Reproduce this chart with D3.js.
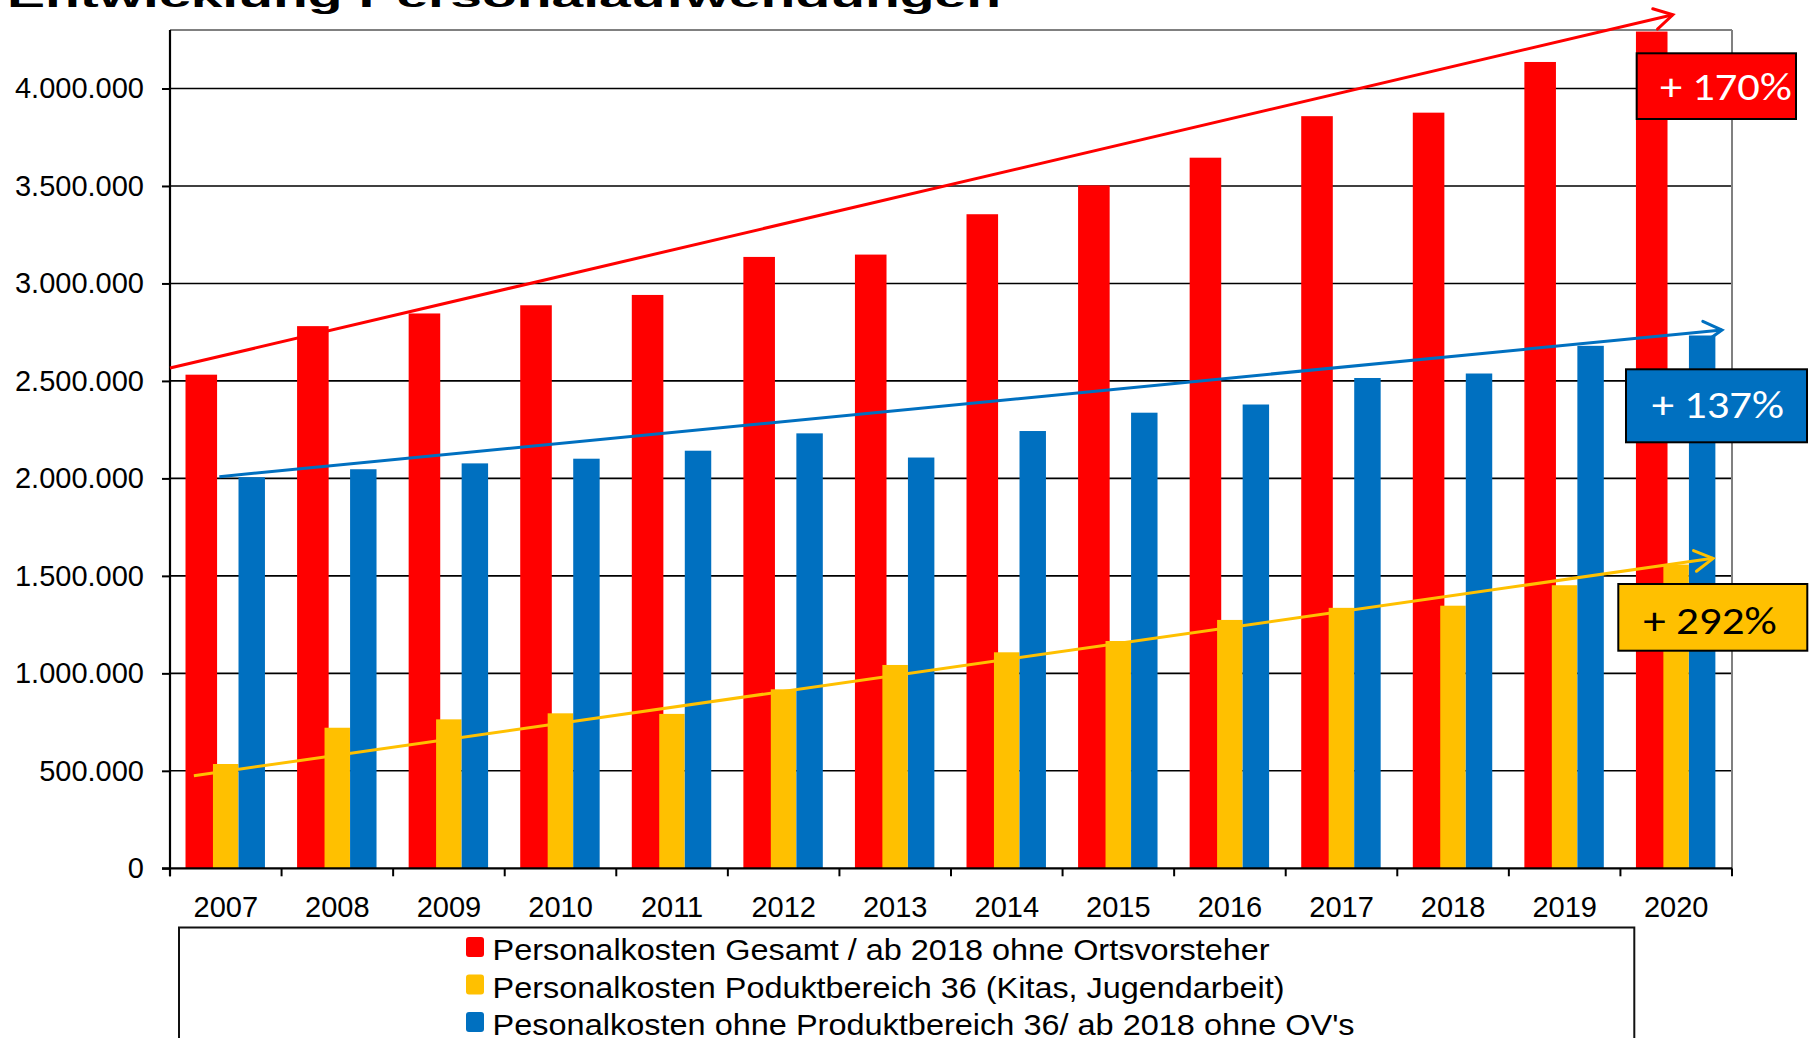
<!DOCTYPE html>
<html><head><meta charset="utf-8">
<script src="https://cdn.jsdelivr.net/npm/d3@7"></script>
<style>
html,body{margin:0;padding:0;background:#fff;}
svg{display:block;}
text{font-family:"Liberation Sans",Arial,sans-serif;}
</style></head><body>
<svg id="chart" width="1810" height="1038"></svg>
<script>
// ---------- data ----------
const years = ["2007","2008","2009","2010","2011","2012","2013","2014","2015","2016","2017","2018","2019","2020"];
const gesamt    = [2532000,2781000,2846000,2888000,2941000,3136000,3148000,3355000,3503000,3645000,3858000,3876000,4136000,4292000];
const bereich36 = [535000,721000,764000,795000,792000,918000,1043000,1108000,1166000,1274000,1336000,1347000,1452000,1558000];
const ohne36    = [2006000,2047000,2077000,2101000,2142000,2231000,2107000,2243000,2337000,2379000,2515000,2538000,2680000,2733000];
const seriesNames = [
  "Personalkosten Gesamt / ab 2018 ohne Ortsvorsteher",
  "Personalkosten Poduktbereich 36 (Kitas, Jugendarbeit)",
  "Pesonalkosten ohne Produktbereich 36/ ab 2018 ohne OV's"
];
const yTicks = [0,500000,1000000,1500000,2000000,2500000,3000000,3500000,4000000];
const yMax = 4300000;
// trend arrows: [category position (0 = left edge of 2007), value]
const trendGesamt    = [[0, 2566000], [13.47, 4378000]];
const trendOhne36    = [[0.442, 2009000], [13.91, 2761000]];
const trendBereich36 = [[0.214, 475000], [13.83, 1590000]];
const growthLabels = ["+ 170%", "+ 137%", "+ 292%"];
const titleText = "Entwicklung Personalaufwendungen";

// ---------- styles / layout ----------
const colors = ["#FF0000", "#FFC000", "#0070C0"];
const L = 170, R = 1732, T = 30, B = 868.3;
const svg = d3.select("#chart");
svg.append("rect").attr("width",1810).attr("height",1038).attr("fill","#fff");

const x = d3.scaleBand().domain(years).range([L, R]).padding(0);
const xl = d3.scaleLinear().domain([0, years.length]).range([L, R]);
const y = d3.scaleLinear().domain([0, yMax]).range([B, T]);
const fmt = d3.formatLocale({decimal: ",", thousands: ".", grouping: [3], currency: ["", "€"]}).format(",");

// title (only the lower part is visible)
svg.append("text").text(titleText)
  .attr("transform", "translate(7,6.5) scale(1,0.55)")
  .attr("font-size", 57).attr("font-weight", "bold").attr("fill", "#000");

// gridlines
svg.append("g").selectAll("line").data(yTicks.filter(d => d > 0)).join("line")
  .attr("x1", L).attr("x2", R).attr("y1", d => y(d)).attr("y2", d => y(d))
  .attr("stroke", "#000").attr("stroke-width", 1.6);

// plot border top/right
svg.append("line").attr("x1", L).attr("x2", R).attr("y1", T).attr("y2", T).attr("stroke", "#808080").attr("stroke-width", 2);
svg.append("line").attr("x1", R).attr("x2", R).attr("y1", T).attr("y2", B).attr("stroke", "#808080").attr("stroke-width", 2);

// bars
const barLayout = [{off: 0.139, w: 0.283}, {off: 0.385, w: 0.228}, {off: 0.614, w: 0.237}];
const series = [gesamt, bereich36, ohne36];
const step = x.step();
series.forEach((vals, si) => {
  svg.append("g").selectAll("rect").data(years).join("rect")
    .attr("x", (d) => x(d) + barLayout[si].off * step)
    .attr("width", barLayout[si].w * step)
    .attr("y", (d, i) => y(vals[i]))
    .attr("height", (d, i) => y(0) - y(vals[i]))
    .attr("fill", colors[si]);
});

// y axis
const yAxis = svg.append("g").attr("transform", `translate(${L},0)`)
  .call(d3.axisLeft(y).tickValues(yTicks).tickSize(8).tickPadding(18).tickFormat(fmt));
yAxis.select(".domain").remove();
yAxis.selectAll(".tick line").attr("stroke", "#000").attr("stroke-width", 2);
yAxis.selectAll("text").attr("font-size", 29).attr("fill", "#000")
  .attr("font-family", '"Liberation Sans",Arial,sans-serif');
svg.append("line").attr("x1", L).attr("x2", L).attr("y1", T).attr("y2", B + 8).attr("stroke", "#000").attr("stroke-width", 2.2);

// x axis
svg.append("line").attr("x1", L - 8).attr("x2", R).attr("y1", B).attr("y2", B).attr("stroke", "#000").attr("stroke-width", 2.2);
svg.append("g").selectAll("line").data(d3.range(years.length + 1)).join("line")
  .attr("x1", d => xl(d)).attr("x2", d => xl(d)).attr("y1", B).attr("y2", B + 8)
  .attr("stroke", "#000").attr("stroke-width", 2);
const xAxis = svg.append("g").attr("transform", `translate(0,${B})`)
  .call(d3.axisBottom(x).tickSize(0).tickPadding(28));
xAxis.select(".domain").remove();
xAxis.selectAll("text").attr("font-size", 29).attr("fill", "#000")
  .attr("font-family", '"Liberation Sans",Arial,sans-serif');

// trend arrows
function arrow(pts, color) {
  const x0 = xl(pts[0][0]), y0 = y(pts[0][1]), x1 = xl(pts[1][0]), y1 = y(pts[1][1]);
  const g = svg.append("g");
  g.append("line").attr("x1", x0).attr("y1", y0).attr("x2", x1).attr("y2", y1)
    .attr("stroke", color).attr("stroke-width", 3);
  const a = Math.atan2(y1 - y0, x1 - x0), len = 21, sp = 0.52;
  g.append("path")
    .attr("d", `M${x1 - len * Math.cos(a - sp)},${y1 - len * Math.sin(a - sp)}L${x1},${y1}L${x1 - len * Math.cos(a + sp)},${y1 - len * Math.sin(a + sp)}`)
    .attr("fill", "none").attr("stroke", color).attr("stroke-width", 3).attr("stroke-linecap", "round");
}
arrow(trendGesamt, colors[0]);
arrow(trendOhne36, colors[2]);
arrow(trendBereich36, colors[1]);

// growth boxes
const boxes = [
  {x: 1636.7, y: 53.3, w: 159.3, h: 65.7, tx: 1660, ty: 100, tw: 131.7, fill: colors[0], tc: "#fff"},
  {x: 1626, y: 369.3, w: 181, h: 73, tx: 1651.7, ty: 417.7, tw: 132.3, fill: colors[2], tc: "#fff"},
  {x: 1618.3, y: 584, w: 189, h: 66.7, tx: 1643.3, ty: 634, tw: 133.4, fill: colors[1], tc: "#000"}
];
boxes.forEach((b, i) => {
  svg.append("rect").attr("x", b.x).attr("y", b.y).attr("width", b.w).attr("height", b.h)
    .attr("fill", b.fill).attr("stroke", "#000").attr("stroke-width", 2);
  svg.append("text").text(growthLabels[i]).attr("x", b.tx).attr("y", b.ty)
    .attr("font-size", 39).attr("fill", b.tc)
    .style("font-family", "Carlito, Lato, 'Open Sans', sans-serif")
    .attr("textLength", b.tw).attr("lengthAdjust", "spacingAndGlyphs");
});

// legend
svg.append("rect").attr("x", 179).attr("y", 927.5).attr("width", 1455.3).attr("height", 200)
  .attr("fill", "#fff").attr("stroke", "#111").attr("stroke-width", 2);
const legendWidths = [777, 792, 862];
seriesNames.forEach((name, i) => {
  const yy = 960 + i * 37.5;
  svg.append("rect").attr("x", 466).attr("y", yy - 23).attr("width", 18).attr("height", 20)
    .attr("rx", 3).attr("fill", colors[i]);
  svg.append("text").text(name).attr("x", 492.6).attr("y", yy)
    .attr("font-size", 30).attr("fill", "#000")
    .attr("textLength", legendWidths[i]).attr("lengthAdjust", "spacingAndGlyphs");
});
</script>
</body></html>
